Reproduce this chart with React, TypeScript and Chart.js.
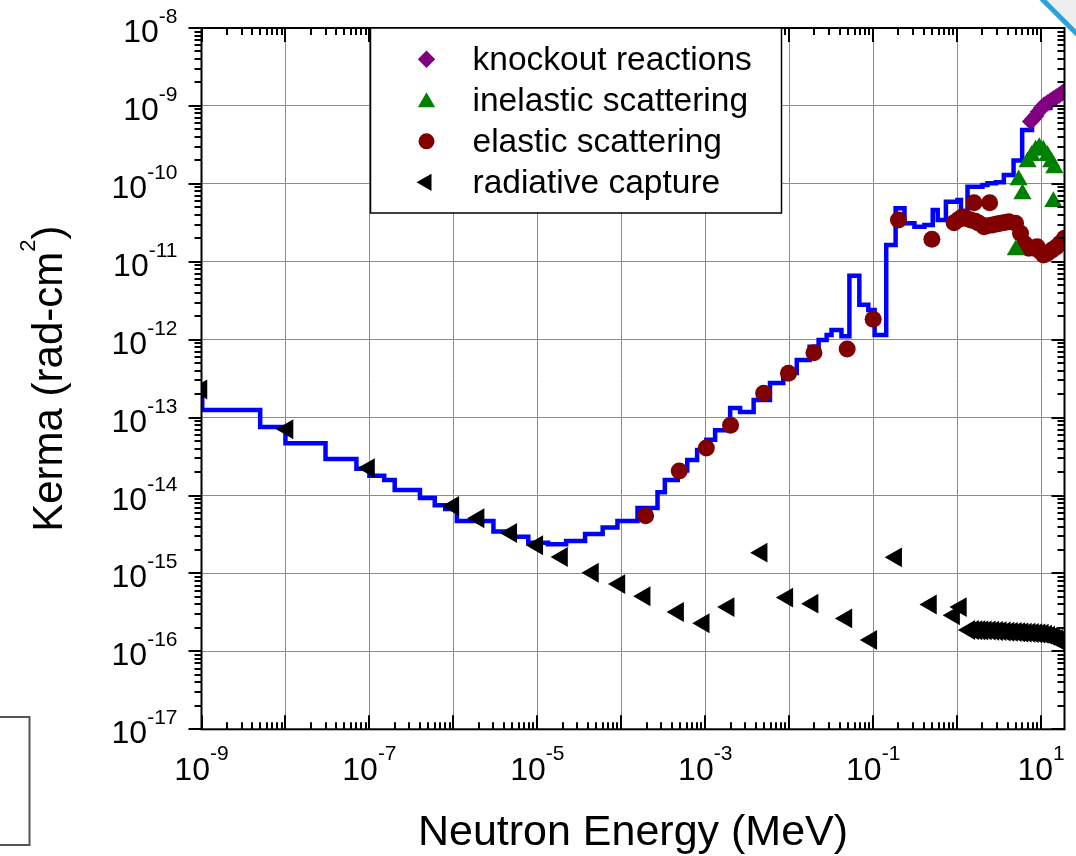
import React, { useEffect, useRef } from "react";
import { Chart, registerables } from "chart.js";

Chart.register(...registerables);

// ---------------- data ----------------
const xDecades = [1e-9, 1e-8, 1e-7, 1e-6, 1e-5, 1e-4, 1e-3, 1e-2, 1e-1, 1, 1e1];
const yDecades = [1e-17, 1e-16, 1e-15, 1e-14, 1e-13, 1e-12, 1e-11, 1e-10, 1e-9, 1e-8];
const xTickValues = [1e-9, 1e-7, 1e-5, 1e-3, 1e-1, 1e1];
const xTickExponents = ["-9", "-7", "-5", "-3", "-1", "1"];
const yTickValues = [1e-8, 1e-9, 1e-10, 1e-11, 1e-12, 1e-13, 1e-14, 1e-15, 1e-16, 1e-17];
const yTickExponents = ["-8", "-9", "-10", "-11", "-12", "-13", "-14", "-15", "-16", "-17"];

const xMin = 1e-9;
const xMax = 19;
const yMin = 1e-17;
const yMax = 1e-8;

// total kerma (blue step line): bin start energy (MeV) and kerma
const totalE = [
  1e-9, 1.02e-9, 5.0e-9, 1.0e-8, 3.0e-8, 7.0e-8, 1.0e-7, 1.5e-7, 2.0e-7, 4.0e-7, 6.0e-7, 8.0e-7,
  1.1e-6, 3.0e-6, 5.0e-6, 7.8e-6, 1.34e-5, 2.2e-5, 3.7e-5, 6.0e-5, 9.0e-5, 1.56e-4, 2.7e-4,
  3.3e-4, 4.7e-4, 6.1e-4, 8.0e-4, 1.03e-3, 1.31e-3, 1.98e-3, 2.6e-3, 3.77e-3, 5.9e-3, 8.5e-3,
  1.23e-2, 1.75e-2, 2.24e-2, 2.79e-2, 3.19e-2, 4.19e-2, 5.21e-2, 6.84e-2, 8.75e-2, 0.104,
  0.143, 0.185, 0.236, 0.31, 0.407, 0.512, 0.587, 0.735, 1.01, 1.11, 1.33, 2.0, 2.3, 2.9, 3.6,
  4.7, 5.95, 7.8, 8.6, 10.1, 12.9, 16, 19,
];
const totalK = [
  2.4e-13, 1.25e-13, 7.6e-14, 4.7e-14, 2.95e-14, 2.2e-14, 1.8e-14, 1.58e-14, 1.18e-14, 9.3e-15, 7.5e-15, 6.7e-15,
  4.7e-15, 3.45e-15, 2.95e-15, 2.48e-15, 2.37e-15, 2.6e-15, 3.2e-15, 3.9e-15, 4.7e-15, 6.9e-15, 1.1e-14,
  1.58e-14, 2.1e-14, 2.85e-14, 3.85e-14, 5.2e-14, 6.9e-14, 1.33e-13, 1.18e-13, 1.68e-13, 2.78e-13, 3.73e-13,
  5.5e-13, 8.1e-13, 9.9e-13, 1.15e-12, 1.33e-12, 1.11e-12, 6.6e-12, 2.8e-12, 2.4e-12, 1.15e-12,
  1.64e-11, 4.85e-11, 3.12e-11, 2.82e-11, 2.97e-11, 4.6e-11, 3.43e-11, 5.9e-11, 6.2e-11, 4.35e-11, 9.2e-11, 9.7e-11, 1.02e-10, 1.05e-10, 1.3e-10,
  2.0e-10, 4.9e-10, 7.0e-10, 8.4e-10, 9.4e-10, 1.19e-9, 1.38e-9, 1.5e-9,
];

// knockout reactions (purple diamonds)
const knockoutE = [7.5, 8.0, 8.6, 9.3, 10.1, 10.9, 11.9, 12.9, 14.0, 15.2, 16.5, 17.9, 19];
const knockoutK = [6.3e-10, 6.8e-10, 7.4e-10, 8.4e-10, 9.4e-10, 1.03e-9, 1.09e-9, 1.16e-9, 1.23e-9, 1.3e-9, 1.38e-9, 1.47e-9, 1.55e-9];

// inelastic scattering (green triangles)
const inelasticE = [5.0, 5.4, 6.0, 6.9, 7.7, 8.6, 9.5, 10.6, 11.9, 13.2, 14.4, 14.0];
const inelasticK = [1.42e-11, 1.12e-10, 7.4e-11, 1.9e-10, 2.3e-10, 2.7e-10, 2.9e-10, 2.7e-10, 2.3e-10, 1.9e-10, 1.6e-10, 5.9e-11];

// elastic scattering (dark red circles)
const elasticE = [
  1.95e-4, 4.9e-4, 1.03e-3, 2.0e-3, 4.96e-3, 9.8e-3, 1.97e-2, 4.9e-2, 0.1, 0.2, 0.5, 0.92, 1.05, 1.16,
  1.3, 1.45, 1.59, 1.65, 1.82, 2.09, 2.3, 2.44, 2.63, 2.95, 3.3, 3.7, 4.13, 4.96, 5.69, 6.4, 7.13,
  8.0, 8.97, 9.8, 10.7, 12.0, 13.5, 15.2, 16.9, 19,
];
const elasticK = [
  5.5e-15, 2.06e-14, 4.07e-14, 8.0e-14, 2.05e-13, 3.7e-13, 6.8e-13, 7.6e-13, 1.83e-12, 3.44e-11, 1.94e-11, 3.17e-11, 3.5e-11, 3.79e-11,
  3.6e-11, 3.44e-11, 5.73e-11, 3.3e-11, 3.12e-11, 2.82e-11, 2.9e-11, 5.73e-11, 2.96e-11, 3.05e-11, 3.12e-11, 3.2e-11, 3.27e-11, 3.12e-11, 2.32e-11, 1.7e-11, 1.49e-11,
  1.5e-11, 1.56e-11, 1.35e-11, 1.22e-11, 1.3e-11, 1.42e-11, 1.55e-11, 1.73e-11, 2.0e-11,
];

// radiative capture (black left triangles)
const captureE = [
  1.0e-9, 1.06e-8, 9.9e-8, 1.0e-6, 2.0e-6, 4.9e-6, 1.0e-5, 1.97e-5, 4.6e-5, 9.5e-5, 1.9e-4, 4.75e-4,
  9.6e-4, 1.9e-3, 4.7e-3, 9.5e-3, 1.9e-2, 4.8e-2, 9.5e-2, 0.188, 0.488, 0.92, 1.11,
  1.4, 1.55, 1.7, 1.85, 2.0, 2.2, 2.45, 2.7, 3.0, 3.3, 3.7, 4.1, 4.5, 5.0, 5.5, 6.0, 6.6, 7.3, 8.0,
  8.8, 9.6, 10.5, 11.5, 12.5, 13.5, 14.5, 15.5, 16.5, 17.5, 18.5, 19,
];
const captureK = [
  2.3e-13, 7.1e-14, 2.25e-14, 7.35e-15, 5.1e-15, 3.3e-15, 2.3e-15, 1.63e-15, 1.02e-15, 7.3e-16, 5.1e-16, 3.2e-16,
  2.3e-16, 3.7e-16, 1.85e-15, 4.9e-16, 4.1e-16, 2.65e-16, 1.4e-16, 1.61e-15, 4.0e-16, 2.9e-16, 3.7e-16,
  1.88e-16, 1.88e-16, 1.87e-16, 1.87e-16, 1.86e-16, 1.86e-16, 1.85e-16, 1.84e-16, 1.83e-16, 1.82e-16, 1.8e-16, 1.79e-16, 1.78e-16, 1.77e-16, 1.76e-16, 1.75e-16, 1.74e-16, 1.73e-16, 1.72e-16,
  1.71e-16, 1.7e-16, 1.68e-16, 1.64e-16, 1.59e-16, 1.54e-16, 1.49e-16, 1.44e-16, 1.39e-16, 1.34e-16, 1.29e-16, 1.27e-16,
];

const legendLabels = ["knockout reactions", "inelastic scattering", "elastic scattering", "radiative capture"];

const xTitle = "Neutron Energy (MeV)";
const yTitleMain = "Kerma (rad-cm";
const yTitleSup = "2";
const yTitleEnd = ")";

// ---------------- styling ----------------
const FONT = '"Liberation Sans", Arial, Helvetica, sans-serif';
const BLUE = "#0000ff";
const PURPLE = "#800080";
const GREEN = "#008000";
const DARKRED = "#800000";
const BLACK = "#000000";

const pts = (xs: number[], ys: number[]) => xs.map((x, i) => ({ x, y: ys[i] }));

function drawMarker(ctx: CanvasRenderingContext2D, kind: string, x: number, y: number, r: number, color: string) {
  ctx.save();
  ctx.fillStyle = color;
  ctx.beginPath();
  if (kind === "diamond") {
    ctx.moveTo(x - r, y);
    ctx.lineTo(x, y - r);
    ctx.lineTo(x + r, y);
    ctx.lineTo(x, y + r);
  } else if (kind === "up") {
    ctx.moveTo(x, y - r);
    ctx.lineTo(x + r * 0.866, y + r / 2);
    ctx.lineTo(x - r * 0.866, y + r / 2);
  } else if (kind === "left") {
    ctx.moveTo(x - r, y);
    ctx.lineTo(x + r / 2, y - r * 0.866);
    ctx.lineTo(x + r / 2, y + r * 0.866);
  } else {
    ctx.arc(x, y, r, 0, Math.PI * 2);
  }
  ctx.closePath();
  ctx.fill();
  ctx.restore();
}

const decorPlugin = {
  id: "decor",
  beforeDraw(chart: any) {
    const { ctx, width, height } = chart;
    ctx.save();
    ctx.fillStyle = "#ffffff";
    ctx.fillRect(0, 0, width, height);
    ctx.restore();
  },
  afterDraw(chart: any) {
    const { ctx } = chart;
    const a = chart.chartArea;
    const xs = chart.scales.x;
    const ys = chart.scales.y;
    ctx.save();

    // frame
    ctx.strokeStyle = "#000";
    ctx.lineWidth = 2;
    ctx.strokeRect(a.left, a.top, a.right - a.left, a.bottom - a.top);

    // ticks
    ctx.lineWidth = 2;
    ctx.beginPath();
    for (let e = -9; e <= 1; e++) {
      for (let m = 1; m <= 9; m++) {
        const v = m * Math.pow(10, e);
        if (v < xMin * 0.999 || v > xMax) continue;
        const px = Math.round(xs.getPixelForValue(v));
        const len = m === 1 ? 14 : 7;
        ctx.moveTo(px, a.bottom);
        ctx.lineTo(px, a.bottom - len);
        ctx.moveTo(px, a.top);
        ctx.lineTo(px, a.top + len);
      }
    }
    for (let e = -17; e <= -8; e++) {
      for (let m = 1; m <= 9; m++) {
        const v = m * Math.pow(10, e);
        if (v < yMin * 0.999 || v > yMax * 1.001) continue;
        const py = Math.round(ys.getPixelForValue(v));
        const len = m === 1 ? 13 : 7;
        ctx.moveTo(a.left, py);
        ctx.lineTo(a.left - len, py);
        ctx.moveTo(a.right, py);
        ctx.lineTo(a.right - len, py);
      }
    }
    ctx.stroke();

    // tick labels
    ctx.fillStyle = "#000";
    ctx.textAlign = "left";
    ctx.textBaseline = "alphabetic";
    const big = `32px ${FONT}`;
    const small = `21px ${FONT}`;
    xTickValues.forEach((v, i) => {
      const px = xs.getPixelForValue(v);
      ctx.font = big;
      const w1 = ctx.measureText("10").width;
      ctx.font = small;
      const w2 = ctx.measureText(xTickExponents[i]).width;
      const sx = px - (w1 + w2) / 2;
      ctx.font = big;
      ctx.fillText("10", sx, a.bottom + 51);
      ctx.font = small;
      ctx.fillText(xTickExponents[i], sx + w1, a.bottom + 31);
    });
    yTickValues.forEach((v, i) => {
      const py = ys.getPixelForValue(v);
      ctx.font = big;
      const w1 = ctx.measureText("10").width;
      ctx.font = small;
      const w2 = ctx.measureText(yTickExponents[i]).width;
      const right = a.left - 24;
      const sx = right - w1 - w2;
      ctx.font = big;
      ctx.fillText("10", sx, py + 14);
      ctx.font = small;
      ctx.fillText(yTickExponents[i], sx + w1, py - 5);
    });

    // axis titles
    ctx.font = `43px ${FONT}`;
    ctx.textAlign = "center";
    ctx.fillText(xTitle, (a.left + a.right) / 2, 845);

    ctx.save();
    ctx.translate(62, (a.top + a.bottom) / 2);
    ctx.rotate(-Math.PI / 2);
    ctx.textAlign = "left";
    ctx.font = `42px ${FONT}`;
    const t1 = ctx.measureText(yTitleMain).width;
    const t3 = ctx.measureText(yTitleEnd).width;
    ctx.font = `22px ${FONT}`;
    const t2 = ctx.measureText(yTitleSup).width;
    const sx = -(t1 + t2 + t3) / 2;
    ctx.font = `42px ${FONT}`;
    ctx.fillText(yTitleMain, sx, 0);
    ctx.font = `22px ${FONT}`;
    ctx.fillText(yTitleSup, sx + t1, -27);
    ctx.font = `42px ${FONT}`;
    ctx.fillText(yTitleEnd, sx + t1 + t2, 0);
    ctx.restore();

    // legend
    const lx = a.left + 169;
    const ly = a.top;
    const lw = 411;
    const lh = 185;
    ctx.fillStyle = "#fff";
    ctx.fillRect(lx, ly, lw, lh);
    ctx.strokeStyle = "#000";
    ctx.lineWidth = 1.5;
    ctx.strokeRect(lx, ly, lw, lh);
    const kinds = ["diamond", "up", "circle", "left"];
    const colors = [PURPLE, GREEN, DARKRED, BLACK];
    const radii = [8.7, 10, 8, 10];
    ctx.font = `33.5px ${FONT}`;
    ctx.textAlign = "left";
    ctx.textBaseline = "middle";
    legendLabels.forEach((lab, i) => {
      const cy = ly + 31.3 + i * 41;
      drawMarker(ctx, kinds[i], lx + 56, cy + (kinds[i] === "up" ? 2 : 0), radii[i], colors[i]);
      ctx.fillStyle = "#000";
      ctx.fillText(lab, lx + 102, cy + 1);
    });

    // screenshot artefacts: cut-off box at bottom left and streak at top right
    ctx.strokeStyle = "#555";
    ctx.lineWidth = 2;
    ctx.strokeRect(-10, 717, 39.5, 128);
    ctx.fillStyle = "#eeeeee";
    ctx.beginPath();
    ctx.moveTo(1046, 0);
    ctx.lineTo(1076, 0);
    ctx.lineTo(1076, 28);
    ctx.closePath();
    ctx.fill();
    ctx.strokeStyle = "#2ba3d8";
    ctx.lineWidth = 5;
    ctx.beginPath();
    ctx.moveTo(1041, -2);
    ctx.lineTo(1078, 35);
    ctx.stroke();

    ctx.restore();
  },
};

export default function App() {
  const ref = useRef<HTMLCanvasElement>(null);
  useEffect(() => {
    document.body.style.margin = "0";
    const canvas = ref.current!;
    const chart = new Chart(canvas, {
      type: "line",
      data: {
        datasets: [
          {
            label: legendLabels[0],
            data: pts(knockoutE, knockoutK),
            showLine: false,
            pointStyle: "rectRot",
            pointRadius: 8.7,
            pointBorderWidth: 0,
            pointBackgroundColor: PURPLE,
            pointBorderColor: PURPLE,
            borderColor: PURPLE,
            backgroundColor: PURPLE,
            clip: 0,
            order: 1,
          },
          {
            label: legendLabels[1],
            data: pts(inelasticE, inelasticK),
            showLine: false,
            pointStyle: "triangle",
            pointRadius: 10.5,
            pointBorderWidth: 0,
            pointBackgroundColor: GREEN,
            pointBorderColor: GREEN,
            borderColor: GREEN,
            backgroundColor: GREEN,
            clip: 0,
            order: 2,
          },
          {
            label: legendLabels[2],
            data: pts(elasticE, elasticK),
            showLine: false,
            pointStyle: "circle",
            pointRadius: 8.5,
            pointBorderWidth: 0,
            pointBackgroundColor: DARKRED,
            pointBorderColor: DARKRED,
            borderColor: DARKRED,
            backgroundColor: DARKRED,
            clip: 0,
            order: 3,
          },
          {
            label: legendLabels[3],
            data: pts(captureE, captureK),
            showLine: false,
            pointStyle: "triangle",
            pointRotation: -90,
            pointRadius: 11.5,
            pointBorderWidth: 0,
            pointBackgroundColor: BLACK,
            pointBorderColor: BLACK,
            borderColor: BLACK,
            backgroundColor: BLACK,
            clip: 0,
            order: 4,
          } as any,
          {
            label: "total",
            data: pts(totalE, totalK),
            showLine: true,
            stepped: "before",
            borderColor: BLUE,
            borderWidth: 4.5,
            borderJoinStyle: "miter",
            borderCapStyle: "butt",
            pointRadius: 0,
            fill: false,
            clip: 0,
            order: 5,
          } as any,
        ],
      },
      options: {
        responsive: false,
        animation: false,
        devicePixelRatio: 1,
        layout: { padding: { left: 201.5, top: 28, right: 6.5, bottom: 126.7 } },
        plugins: { legend: { display: false }, tooltip: { enabled: false } },
        events: [],
        scales: {
          x: {
            type: "logarithmic",
            min: xMin,
            max: xMax,
            afterBuildTicks: (s: any) => {
              s.ticks = xDecades.map((v) => ({ value: v }));
            },
            ticks: { display: false },
            grid: { color: "#8c8c8c", lineWidth: 1, drawTicks: false },
            border: { display: false },
          },
          y: {
            type: "logarithmic",
            min: yMin,
            max: yMax,
            afterBuildTicks: (s: any) => {
              s.ticks = yDecades.map((v) => ({ value: v }));
            },
            ticks: { display: false },
            grid: { color: "#8c8c8c", lineWidth: 1, drawTicks: false },
            border: { display: false },
          },
        },
      } as any,
      plugins: [decorPlugin],
    });
    return () => chart.destroy();
  }, []);
  return (
    <div style={{ position: "absolute", left: 0, top: 0, width: 1076, height: 856, background: "#fff" }}>
      <canvas ref={ref} width={1076} height={856} style={{ display: "block", width: 1076, height: 856 }} />
    </div>
  );
}
